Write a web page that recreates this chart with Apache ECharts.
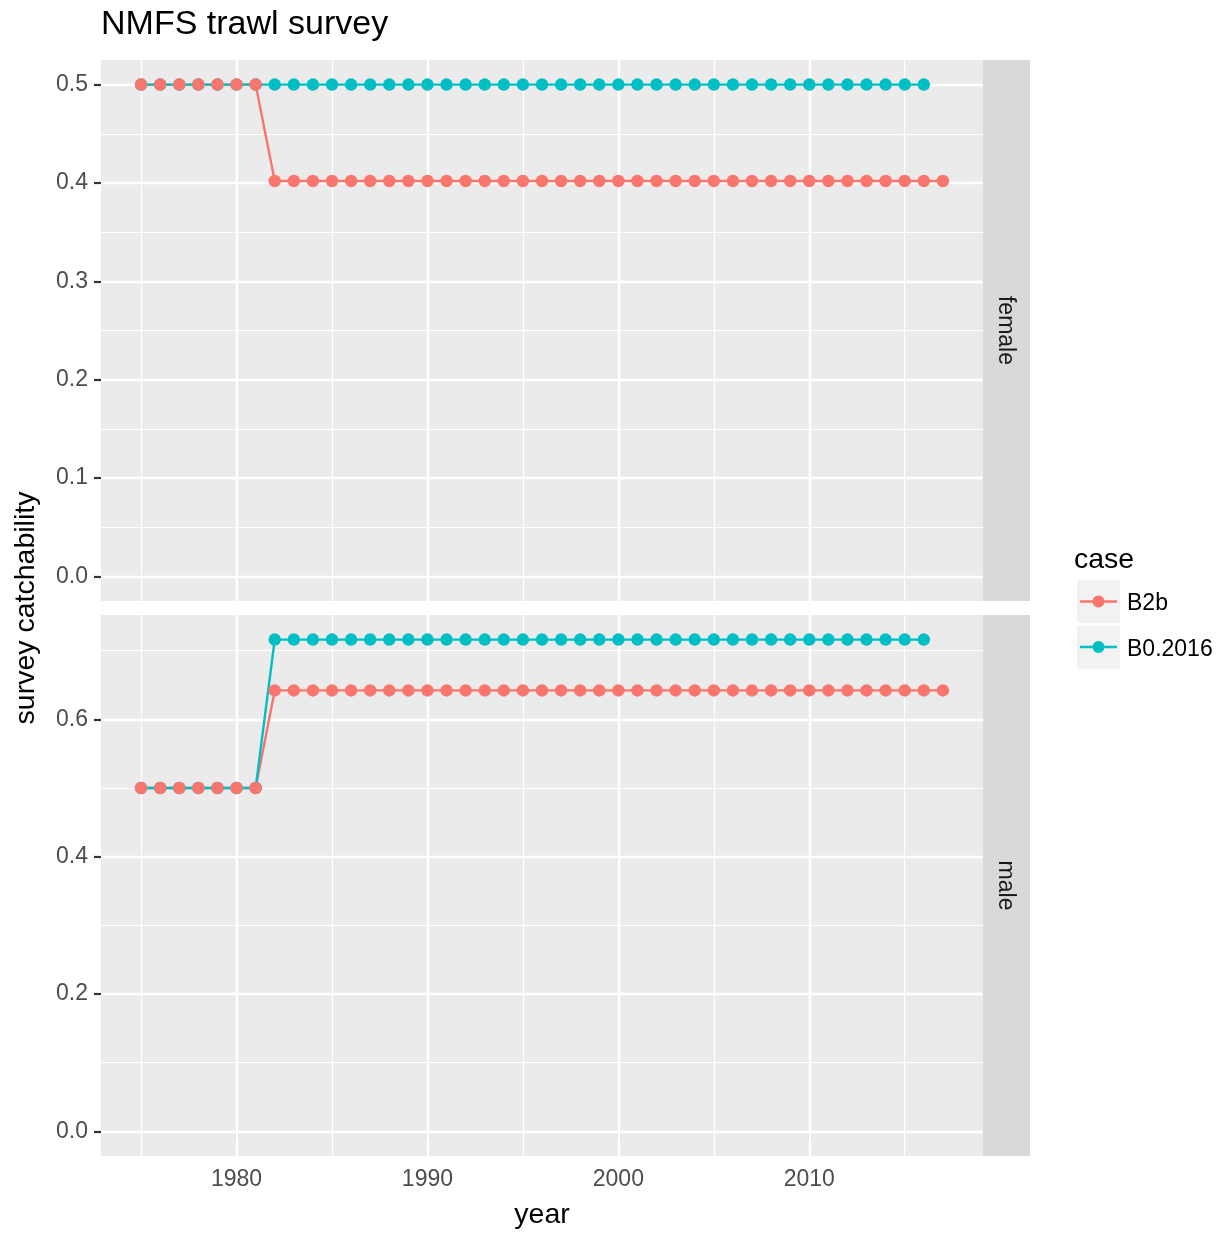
<!DOCTYPE html>
<html><head><meta charset="utf-8">
<script src="https://cdn.jsdelivr.net/npm/echarts@6/dist/echarts.min.js"></script>
<style>html,body{margin:0;padding:0;background:#fff}#c{width:1227px;height:1234px}</style>
</head><body><div id="c"></div>
<script>
// ---- data ----
const years = [1975,1976,1977,1978,1979,1980,1981,1982,1983,1984,1985,1986,1987,1988,1989,
  1990,1991,1992,1993,1994,1995,1996,1997,1998,1999,2000,2001,2002,2003,2004,2005,2006,2007,
  2008,2009,2010,2011,2012,2013,2014,2015,2016,2017];
const caseNames = ['B2b', 'B0.2016'];
const panelNames = ['female', 'male'];
const femaleB2b = [0.5,0.5,0.5,0.5,0.5,0.5,0.5,
  0.402,0.402,0.402,0.402,0.402,0.402,0.402,0.402,0.402,0.402,0.402,0.402,
  0.402,0.402,0.402,0.402,0.402,0.402,0.402,0.402,0.402,0.402,0.402,0.402,
  0.402,0.402,0.402,0.402,0.402,0.402,0.402,0.402,0.402,0.402,0.402,0.402];
const femaleB0 = [0.5,0.5,0.5,0.5,0.5,0.5,0.5,0.5,0.5,0.5,0.5,0.5,0.5,0.5,
  0.5,0.5,0.5,0.5,0.5,0.5,0.5,0.5,0.5,0.5,0.5,0.5,0.5,0.5,
  0.5,0.5,0.5,0.5,0.5,0.5,0.5,0.5,0.5,0.5,0.5,0.5,0.5,0.5];
const maleB2b = [0.5,0.5,0.5,0.5,0.5,0.5,0.5,
  0.642,0.642,0.642,0.642,0.642,0.642,0.642,0.642,0.642,0.642,0.642,0.642,
  0.642,0.642,0.642,0.642,0.642,0.642,0.642,0.642,0.642,0.642,0.642,0.642,
  0.642,0.642,0.642,0.642,0.642,0.642,0.642,0.642,0.642,0.642,0.642,0.642];
const maleB0 = [0.5,0.5,0.5,0.5,0.5,0.5,0.5,
  0.716,0.716,0.716,0.716,0.716,0.716,0.716,0.716,0.716,0.716,0.716,0.716,
  0.716,0.716,0.716,0.716,0.716,0.716,0.716,0.716,0.716,0.716,0.716,0.716,
  0.716,0.716,0.716,0.716,0.716,0.716,0.716,0.716,0.716,0.716,0.716];
const xTicks = [1980, 1990, 2000, 2010];
const xMinor = [1975, 1985, 1995, 2005, 2015];
const femaleTicks = [0, 0.1, 0.2, 0.3, 0.4, 0.5];
const femaleMinor = [0.05, 0.15, 0.25, 0.35, 0.45];
const maleTicks = [0, 0.2, 0.4, 0.6];
const maleMinor = [0.1, 0.3, 0.5, 0.7];

// ---- styling ----
const COLORS = ['#F8766D', '#00BFC4'];
const FONT = 'Liberation Sans, Arial, Helvetica, sans-serif';
const GL = 101, GW = 882, GH = 541;
const TOPS = [60, 615];

function pairs(arr) { return arr.map((v, i) => [years[i], v]); }
function expand(lo, hi) { const r = hi - lo; return [lo - 0.05 * r, hi + 0.05 * r]; }

const xr = expand(years[0], years[years.length - 1]);
const fr = expand(0, Math.max(...femaleB2b, ...femaleB0));
const mr = expand(0, Math.max(...maleB2b, ...maleB0));
const yr = [fr, mr];
const yTicks = [femaleTicks, maleTicks];
const yMinor = [femaleMinor, maleMinor];
const seriesData = [[femaleB2b, femaleB0], [maleB2b, maleB0]];

const grids = TOPS.map(t => ({left: GL, top: t, width: GW, height: GH, show: true,
  backgroundColor: '#EBEBEB', borderWidth: 0, containLabel: false}));

const xAxes = [0, 1].map(i => ({
  type: 'value', gridIndex: i, min: xr[0], max: xr[1],
  axisLine: {show: false}, splitLine: {show: false},
  axisTick: {show: i === 1, customValues: xTicks, length: 6.5, lineStyle: {color: '#333333', width: 2.2}},
  axisLabel: {show: i === 1, customValues: xTicks, color: '#4D4D4D', fontSize: 23, fontFamily: FONT, margin: 12,
    formatter: v => String(Math.round(v))}
}));
const yAxes = [0, 1].map(i => ({
  type: 'value', gridIndex: i, min: yr[i][0], max: yr[i][1],
  axisLine: {show: false}, splitLine: {show: false},
  axisTick: {show: true, customValues: yTicks[i], length: 7, lineStyle: {color: '#333333', width: 2.2}},
  axisLabel: {show: true, customValues: yTicks[i], color: '#4D4D4D', fontSize: 23, fontFamily: FONT, margin: 13,
    padding: [4, 0, 0, 0], formatter: v => v.toFixed(1)}
}));

const series = [];
[0, 1].forEach(i => {
  const ml = [];
  xMinor.forEach(v => ml.push({xAxis: v, lineStyle: {color: '#FFFFFF', width: 1.2, type: 'solid'}}));
  yMinor[i].forEach(v => ml.push({yAxis: v, lineStyle: {color: '#FFFFFF', width: 1.2, type: 'solid'}}));
  xTicks.forEach(v => ml.push({xAxis: v, lineStyle: {color: '#FFFFFF', width: 2.4, type: 'solid'}}));
  yTicks[i].forEach(v => ml.push({yAxis: v, lineStyle: {color: '#FFFFFF', width: 2.4, type: 'solid'}}));
  series.push({type: 'line', xAxisIndex: i, yAxisIndex: i, data: [], z: 1, silent: true,
    markLine: {silent: true, z: 1, symbol: ['none', 'none'], label: {show: false},
      emphasis: {disabled: true}, animation: false, data: ml}});
  // lines: B2b under, B0.2016 over
  [0, 1].forEach(k => series.push({type: 'line', name: caseNames[k], xAxisIndex: i, yAxisIndex: i,
    data: pairs(seriesData[i][k]), symbol: 'none', showSymbol: false, z: 2 + k, silent: true,
    lineStyle: {color: COLORS[k], width: 2.4}}));
  // points: B0.2016 under, B2b over
  [1, 0].forEach((k, j) => series.push({type: 'scatter', name: caseNames[k], xAxisIndex: i, yAxisIndex: i,
    data: pairs(seriesData[i][k]), symbol: 'circle', symbolSize: 12.5, z: 4 + j, silent: true,
    itemStyle: {color: COLORS[k], opacity: 1}}));
});

const graphic = [];
// strips
[0, 1].forEach(i => {
  graphic.push({type: 'rect', shape: {x: GL + GW, y: TOPS[i], width: 47, height: GH}, style: {fill: '#D9D9D9'}, silent: true});
  graphic.push({type: 'text', x: GL + GW + 22.5, y: TOPS[i] + GH / 2, rotation: -Math.PI / 2,
    style: {text: panelNames[i], fontSize: 23, fontFamily: FONT, fill: '#1A1A1A', textAlign: 'center', textVerticalAlign: 'middle'}, silent: true});
});
// title & axis titles
graphic.push({type: 'text', x: 101, y: 25, style: {text: 'NMFS trawl survey', fontSize: 34, fontFamily: FONT, fill: '#000', textAlign: 'left', textVerticalAlign: 'middle'}});
graphic.push({type: 'text', x: GL + GW / 2, y: 1215, style: {text: 'year', fontSize: 28.5, fontFamily: FONT, fill: '#000', textAlign: 'center', textVerticalAlign: 'middle'}});
graphic.push({type: 'text', x: 26, y: (TOPS[0] + TOPS[1] + GH) / 2, rotation: Math.PI / 2,
  style: {text: 'survey catchability', fontSize: 28.5, fontFamily: FONT, fill: '#000', textAlign: 'center', textVerticalAlign: 'middle'}});
// legend
graphic.push({type: 'text', x: 1074, y: 560, style: {text: 'case', fontSize: 28.5, fontFamily: FONT, fill: '#000', textAlign: 'left', textVerticalAlign: 'middle'}});
caseNames.forEach((nm, k) => {
  const ky = 580 + k * 45.5;
  graphic.push({type: 'rect', shape: {x: 1077, y: ky, width: 43, height: 43}, style: {fill: '#F2F2F2'}});
  graphic.push({type: 'line', shape: {x1: 1080, y1: ky + 21.5, x2: 1117, y2: ky + 21.5}, style: {stroke: COLORS[k], lineWidth: 2.4}});
  graphic.push({type: 'circle', shape: {cx: 1098.5, cy: ky + 21.5, r: 6}, style: {fill: COLORS[k]}});
  graphic.push({type: 'text', x: 1127, y: ky + 24, style: {text: nm, fontSize: 23, fontFamily: FONT, fill: '#000', textAlign: 'left', textVerticalAlign: 'middle'}});
});

const chart = echarts.init(document.getElementById('c'), null, {renderer: 'canvas'});
chart.setOption({
  animation: false,
  backgroundColor: '#FFFFFF',
  grid: grids, xAxis: xAxes, yAxis: yAxes, series: series, graphic: graphic
});
</script></body></html>
